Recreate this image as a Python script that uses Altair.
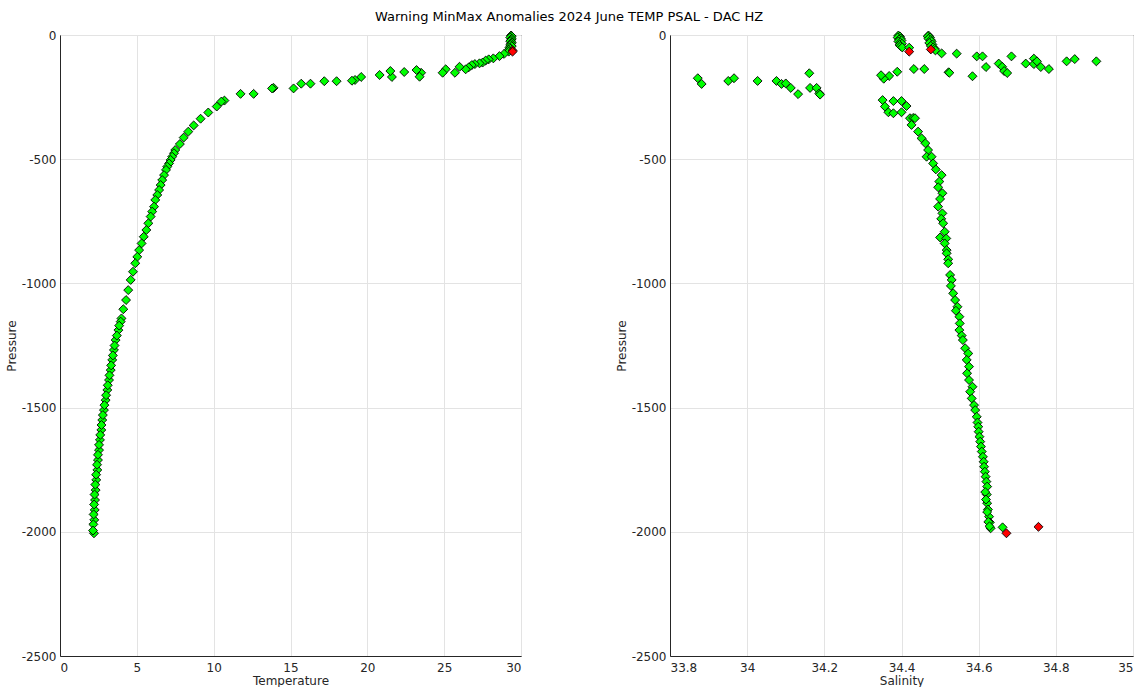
import altair as alt
import pandas as pd

# ---------------- Temperature panel data ----------------
temp_ok_T = [
    29.35, 29.4, 29.3, 29.4, 29.35, 29.3, 29.4, 29.35, 29.3, 29.4, 29.25, 29.3, 29.2,
    29.2, 28.9, 28.6, 28.2, 27.9, 27.7, 27.5, 27.3, 27.0, 26.8, 26.6, 26.4, 26.0, 25.7,
    25.1, 24.9, 23.5, 23.4, 23.2, 22.4, 21.6, 21.5, 20.8, 19.6, 19.2, 19.0, 18.0, 17.2,
    16.3, 15.7, 15.2, 13.9, 13.8, 12.6, 11.75, 10.7, 10.5, 10.2, 9.65, 9.15, 8.7, 8.35,
    8.05, 7.8, 7.5, 7.42, 7.3, 7.2, 7.1, 6.98, 6.9, 6.77, 6.65, 6.55, 6.45, 6.33, 6.2,
    6.12, 6.0, 5.9, 5.75, 5.62, 5.45, 5.31, 5.15, 5.03, 4.9, 4.75, 4.6, 4.44, 4.3, 4.12,
    4.0, 3.95, 3.80, 3.62, 3.51, 3.40, 3.30, 3.19, 3.08, 2.97, 2.86, 2.75, 2.69, 2.60,
    2.54, 2.47, 2.43, 2.36, 2.32, 2.28, 2.26, 2.23, 2.21,
    3.85, 3.70, 3.55, 3.44, 3.33, 3.22, 3.11, 3.00, 2.89, 2.79, 2.70, 2.62, 2.54, 2.47,
    2.41, 2.35, 2.30, 2.25, 2.22, 2.19, 2.17, 2.15,
]
temp_ok_P = [
    -2, -5, -10, -15, -20, -25, -30, -35, -40, -45, -50, -55, -60,
    -67, -76, -85, -94, -98, -103, -111, -114, -117, -121, -130, -138, -128, -152,
    -138, -152, -152, -168, -141, -149, -169, -145, -161, -169, -181, -184, -186, -186,
    -196, -196, -215, -213, -215, -237, -237, -264, -268, -288, -312, -337, -364, -389,
    -413, -439, -463, -476, -490, -503, -517, -530, -543, -564, -584, -604, -624, -644, -664,
    -691, -711, -731, -758, -785, -812, -839, -866, -893, -919, -953, -986, -1027, -1067, -1104,
    -1141, -1154, -1188, -1228, -1268, -1308, -1349, -1389, -1429, -1470, -1510, -1550, -1590, -1630,
    -1671, -1711, -1751, -1791, -1832, -1872, -1912, -1952, -2006,
    -1170, -1210, -1250, -1290, -1330, -1370, -1410, -1450, -1490, -1530, -1570, -1610, -1650, -1690,
    -1730, -1770, -1810, -1850, -1890, -1930, -1970, -1995,
]
temp_bad_T = [29.45, 29.45]
temp_bad_P = [-62, -67]

# ---------------- Salinity panel data ----------------
psal_ok_S = [
    34.392, 34.396, 34.390, 34.398, 34.394, 34.400, 34.392, 34.397, 34.401, 34.395, 34.398, 34.402,
    34.470, 34.468, 34.474, 34.470, 34.476, 34.478, 34.472, 34.480, 34.476, 34.482, 34.486, 34.488,
    34.420, 34.504, 34.543, 34.595, 34.610, 34.619, 34.584, 34.685, 34.652, 34.661, 34.666, 34.674,
    34.722, 34.743, 34.743, 34.751, 34.761, 34.782, 34.828, 34.849, 34.905, 34.522, 34.524, 34.459,
    34.432, 34.389, 34.368, 34.354, 34.347,
    33.872, 33.882, 33.951, 33.966, 34.027, 34.076, 34.089, 34.100, 34.113, 34.132, 34.161, 34.163,
    34.180, 34.187, 34.189,
    34.351, 34.357, 34.379, 34.400, 34.413, 34.366, 34.379, 34.400, 34.422, 34.430,
    34.435, 34.426, 34.443, 34.452, 34.462, 34.469, 34.465, 34.478, 34.482, 34.489, 34.504, 34.498,
    34.495, 34.506, 34.500, 34.495, 34.506, 34.503, 34.508, 34.512, 34.500, 34.516, 34.512, 34.517,
    34.517, 34.521, 34.521, 34.526, 34.530, 34.528, 34.534, 34.539, 34.545, 34.541, 34.550, 34.551,
    34.550, 34.556, 34.559, 34.565, 34.573, 34.569, 34.575, 34.570, 34.575, 34.584, 34.578, 34.582,
    34.588, 34.591, 34.595, 34.597, 34.599, 34.600, 34.602, 34.604, 34.606, 34.608, 34.611, 34.613,
    34.614, 34.616, 34.618, 34.620, 34.622, 34.621, 34.622, 34.624, 34.627, 34.629, 34.631, 34.662,
    34.617, 34.619, 34.622, 34.625, 34.628,
]
psal_ok_P = [
    -2, -6, -10, -14, -18, -22, -26, -30, -35, -40, -45, -50,
    -2, -6, -10, -15, -20, -26, -32, -38, -44, -50, -55, -62,
    -51, -74, -75, -86, -86, -129, -166, -86, -115, -128, -145, -153,
    -115, -95, -117, -106, -129, -137, -106, -97, -106, -150, -152, -137,
    -137, -148, -165, -176, -162,
    -174, -197, -185, -174, -185, -185, -197, -195, -213, -238, -154, -213,
    -213, -235, -240,
    -262, -288, -266, -266, -286, -311, -315, -311, -335, -334,
    -335, -362, -389, -416, -436, -463, -490, -490, -517, -541, -564, -590,
    -613, -637, -660, -691, -718, -740, -758, -792, -815, -819, -839, -866,
    -879, -903, -919, -966, -986, -1010, -1040, -1067, -1094, -1110, -1134, -1161,
    -1188, -1210, -1228, -1261, -1282, -1308, -1335, -1362, -1389, -1416, -1436, -1463,
    -1490, -1510, -1537, -1560, -1577, -1597, -1617, -1637, -1657, -1677, -1698, -1718,
    -1738, -1758, -1778, -1798, -1818, -1850, -1885, -1910, -1939, -1962, -1986, -1982,
    -1840, -1870, -1920, -1960, -1978,
]
psal_bad_S = [34.420, 34.476, 34.672, 34.755]
psal_bad_P = [-67, -58, -2006, -1980]

title_text = "Warning MinMax Anomalies 2024 June TEMP PSAL - DAC HZ"
p_ticks = [-2500, -2000, -1500, -1000, -500, 0]
t_ticks = [0, 5, 10, 15, 20, 25, 30]
s_ticks = [33.8, 34.0, 34.2, 34.4, 34.6, 34.8, 35.0]

GREEN = "#00ff00"
RED = "#ff0000"
TXT = "#262626"

df_t_ok = pd.DataFrame({"v": temp_ok_T, "P": temp_ok_P})
df_t_bad = pd.DataFrame({"v": temp_bad_T, "P": temp_bad_P})
df_s_ok = pd.DataFrame({"v": psal_ok_S, "P": psal_ok_P})
df_s_bad = pd.DataFrame({"v": psal_bad_S, "P": psal_bad_P})


def panel(df_ok, df_bad, xtitle, xdomain, xvalues, xlabel_expr, w):
    x = alt.X(
        "v:Q",
        scale=alt.Scale(domain=xdomain, nice=False, zero=False),
        axis=alt.Axis(values=xvalues, title=xtitle, labelExpr=xlabel_expr,
                      labelPadding=6, titlePadding=2),
    )
    y = alt.Y(
        "P:Q",
        scale=alt.Scale(domain=[-2500, 0], nice=False, zero=False),
        axis=alt.Axis(
            values=p_ticks,
            title="Pressure",
            labelExpr="datum.value == 0 ? '0' : '-' + toString(abs(datum.value))",
            labelPadding=4,
            titlePadding=3,
        ),
    )
    ok = alt.Chart(df_ok).mark_point(
        shape="diamond", filled=True, fill=GREEN, stroke="black",
        strokeWidth=0.9, size=80, opacity=1,
    ).encode(x=x, y=y)
    bad = alt.Chart(df_bad).mark_point(
        shape="diamond", filled=True, fill=RED, stroke="black",
        strokeWidth=0.9, size=80, opacity=1,
    ).encode(x=x, y=y)
    return alt.layer(ok, bad).properties(width=w, height=621)


left = panel(df_t_ok, df_t_bad, "Temperature", [0, 30], t_ticks,
             "toString(datum.value)", 461)
right = panel(df_s_ok, df_s_bad, "Salinity", [33.8, 35.0], s_ticks,
              "replace(format(datum.value, '.1f'), '.0', '')", 463)

chart = (
    alt.hconcat(left, right, spacing=92)
    .properties(
        title=alt.Title(title_text, fontSize=13, fontWeight="normal", color="black",
                        font="DejaVu Sans", anchor="middle", offset=5),
        padding={"left": 4, "top": 10, "right": 5, "bottom": 0},
        background="white",
    )
    .configure_view(stroke=TXT, strokeWidth=1)
    .configure_axis(
        labelFont="DejaVu Sans", titleFont="DejaVu Sans",
        labelFontSize=12, titleFontSize=12, titleFontWeight="normal",
        labelColor=TXT, titleColor=TXT, domainColor=TXT, domainWidth=1,
        gridColor="#e3e3e3", gridWidth=1, ticks=False,
    )
)

chart.save("out.html", embed_options={"renderer": "svg", "actions": False})
